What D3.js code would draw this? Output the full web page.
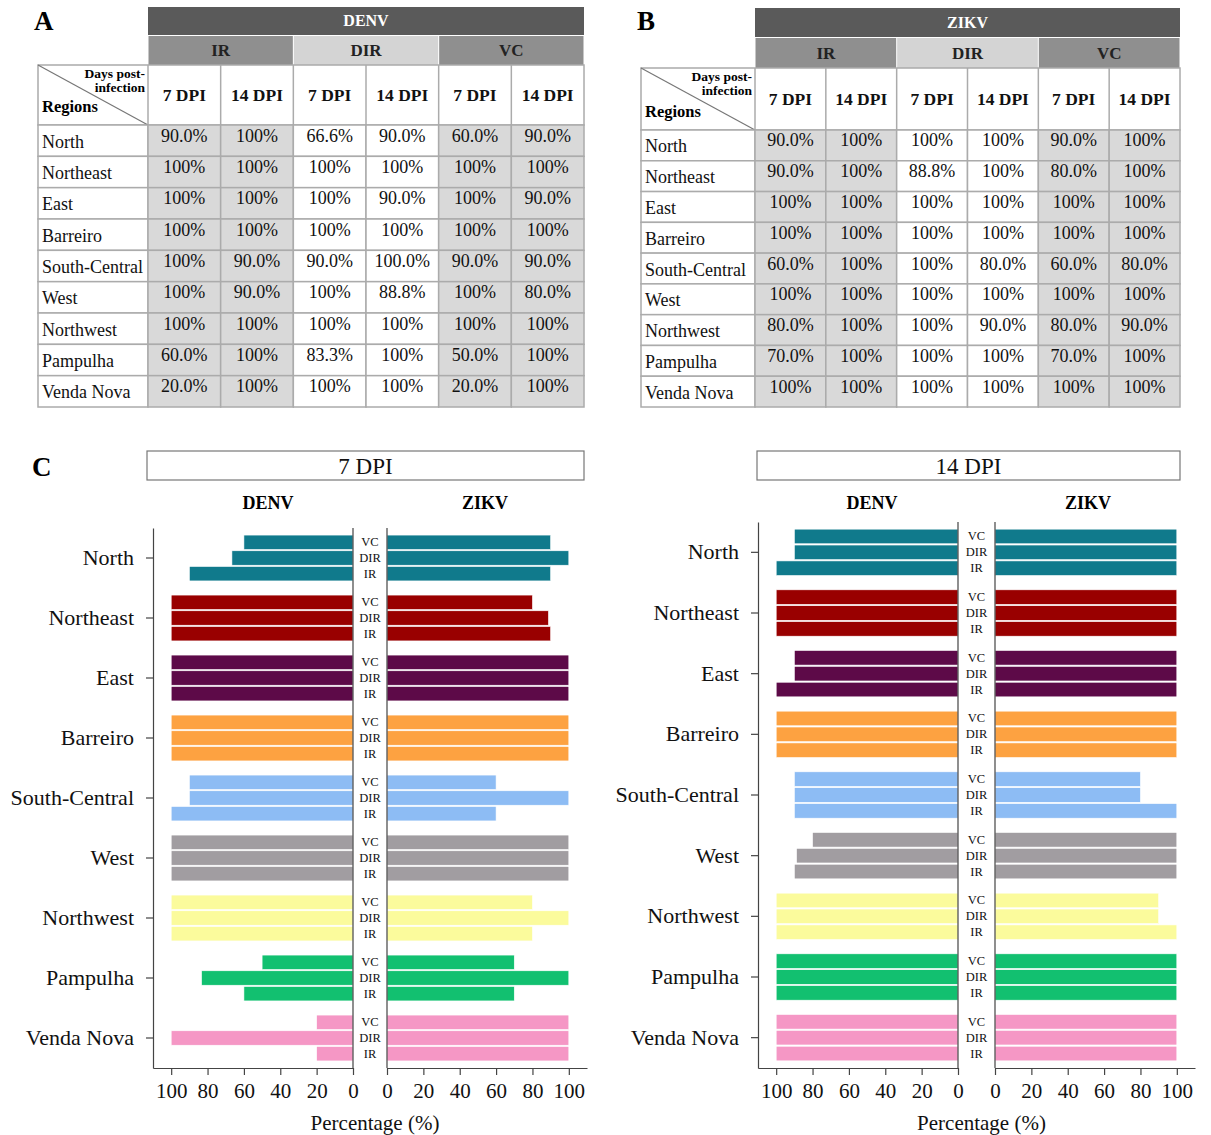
<!DOCTYPE html>
<html>
<head>
<meta charset="utf-8">
<script src="https://cdn.jsdelivr.net/npm/d3@7"></script>
<style>
  body { margin: 0; background: #fff; }
  svg text { font-family: "Liberation Serif", "Times New Roman", serif; }
</style>
</head>
<body>
<svg id="viz" width="1211" height="1135"></svg>
<script>
// Regions, colours, metrics
const regions = ['North', 'Northeast', 'East', 'Barreiro', 'South-Central', 'West', 'Northwest', 'Pampulha', 'Venda Nova'];
const regionColors = ['#107a8c', '#990000', '#5d0a48', '#fda241', '#8dbcf4', '#a19da1', '#fbfb9c', '#12c070', '#f597c5'];
const metrics = ['VC', 'DIR', 'IR'];
const groups = ['IR', 'DIR', 'VC'];
const dpiCols = ['7 DPI', '14 DPI', '7 DPI', '14 DPI', '7 DPI', '14 DPI'];
const ticks = [0, 20, 40, 60, 80, 100];

// Table A (DENV) text, one array per column
const denvTableIR7 = ['90.0%', '100%', '100%', '100%', '100%', '100%', '100%', '60.0%', '20.0%'];
const denvTableIR14 = ['100%', '100%', '100%', '100%', '90.0%', '90.0%', '100%', '100%', '100%'];
const denvTableDIR7 = ['66.6%', '100%', '100%', '100%', '90.0%', '100%', '100%', '83.3%', '100%'];
const denvTableDIR14 = ['90.0%', '100%', '90.0%', '100%', '100.0%', '88.8%', '100%', '100%', '100%'];
const denvTableVC7 = ['60.0%', '100%', '100%', '100%', '90.0%', '100%', '100%', '50.0%', '20.0%'];
const denvTableVC14 = ['90.0%', '100%', '90.0%', '100%', '90.0%', '80.0%', '100%', '100%', '100%'];

// Table B (ZIKV) text
const zikvTableIR7 = ['90.0%', '90.0%', '100%', '100%', '60.0%', '100%', '80.0%', '70.0%', '100%'];
const zikvTableIR14 = ['100%', '100%', '100%', '100%', '100%', '100%', '100%', '100%', '100%'];
const zikvTableDIR7 = ['100%', '88.8%', '100%', '100%', '100%', '100%', '100%', '100%', '100%'];
const zikvTableDIR14 = ['100%', '100%', '100%', '100%', '80.0%', '100%', '90.0%', '100%', '100%'];
const zikvTableVC7 = ['90.0%', '80.0%', '100%', '100%', '60.0%', '100%', '80.0%', '70.0%', '100%'];
const zikvTableVC14 = ['100%', '100%', '100%', '100%', '80.0%', '100%', '90.0%', '100%', '100%'];

// Panel C bar values
const denv7IR = [90, 100, 100, 100, 100, 100, 100, 60, 20];
const denv7DIR = [66.6, 100, 100, 100, 90, 100, 100, 83.3, 100];
const denv7VC = [60, 100, 100, 100, 90, 100, 100, 50, 20];
const zikv7IR = [90, 90, 100, 100, 60, 100, 80, 70, 100];
const zikv7DIR = [100, 88.8, 100, 100, 100, 100, 100, 100, 100];
const zikv7VC = [90, 80, 100, 100, 60, 100, 80, 70, 100];
const denv14IR = [100, 100, 100, 100, 90, 90, 100, 100, 100];
const denv14DIR = [90, 100, 90, 100, 90, 88.8, 100, 100, 100];
const denv14VC = [90, 100, 90, 100, 90, 80, 100, 100, 100];
const zikv14IR = [100, 100, 100, 100, 100, 100, 100, 100, 100];
const zikv14DIR = [100, 100, 100, 100, 80, 100, 90, 100, 100];
const zikv14VC = [100, 100, 100, 100, 80, 100, 90, 100, 100];

const svg = d3.select('#viz');
const borderColor = '#ababab';

function drawTable(o) {
    const g = svg.append('g');
    const cols = [o.ir7, o.ir14, o.dir7, o.dir14, o.vc7, o.vc14];
    const xCol = d3.scaleBand().domain(d3.range(6)).range([o.x1, o.x2]);
    const yRow = d3.scaleBand().domain(regions).range([o.yH3, o.yBottom]);

    // panel letter
    g.append('text').attr('x', o.letterX).attr('y', o.letterY)
        .style('font-size', '27px').style('font-weight', 'bold').text(o.letter);

    // virus header
    g.append('rect').attr('x', o.x1).attr('y', o.yTop).attr('width', o.x2 - o.x1).attr('height', o.yH1 - o.yTop)
        .attr('fill', '#5a5a5a');
    g.append('text').attr('x', (o.x1 + o.x2) / 2).attr('y', (o.yTop + o.yH1) / 2 + 5)
        .attr('text-anchor', 'middle').attr('fill', '#fff')
        .style('font-size', '16px').style('font-weight', 'bold').text(o.virus);

    // IR / DIR / VC header
    groups.forEach((grp, i) => {
        const gx = xCol(i * 2);
        const gw = xCol.bandwidth() * 2;
        g.append('rect').attr('x', gx + 0.5).attr('y', o.yH1 + 1).attr('width', gw - 1).attr('height', o.yH2 - o.yH1 - 1)
            .attr('fill', grp === 'DIR' ? '#d4d4d4' : '#8f8f8f');
        g.append('text').attr('x', gx + gw / 2).attr('y', (o.yH1 + o.yH2) / 2 + 6)
            .attr('text-anchor', 'middle').attr('fill', '#222')
            .style('font-size', '17px').style('font-weight', 'bold').text(grp);
    });

    // DPI header row
    g.append('rect').attr('x', o.x0).attr('y', o.yH2).attr('width', o.x2 - o.x0).attr('height', o.yH3 - o.yH2)
        .attr('fill', '#fff').attr('stroke', borderColor).attr('stroke-width', 1.5);
    dpiCols.forEach((t, i) => {
        g.append('line').attr('x1', xCol(i)).attr('x2', xCol(i)).attr('y1', o.yH2).attr('y2', o.yH3)
            .attr('stroke', borderColor).attr('stroke-width', 1.5);
        g.append('text').attr('x', xCol(i) + xCol.bandwidth() / 2).attr('y', (o.yH2 + o.yH3) / 2 + 6)
            .attr('text-anchor', 'middle').attr('fill', '#111')
            .style('font-size', '17.5px').style('font-weight', 'bold').text(t);
    });
    g.append('line').attr('x1', o.x0).attr('y1', o.yH2).attr('x2', o.x1).attr('y2', o.yH3)
        .attr('stroke', '#777').attr('stroke-width', 1.2);
    g.append('text').attr('x', o.x1 - 3).attr('y', o.yH2 + 13).attr('text-anchor', 'end')
        .style('font-size', '13.5px').style('font-weight', 'bold').text('Days post-');
    g.append('text').attr('x', o.x1 - 3).attr('y', o.yH2 + 27).attr('text-anchor', 'end')
        .style('font-size', '13.5px').style('font-weight', 'bold').text('infection');
    g.append('text').attr('x', o.x0 + 4).attr('y', o.yH3 - 13)
        .style('font-size', '16.5px').style('font-weight', 'bold').text('Regions');

    // data rows
    regions.forEach((r, ri) => {
        const y = yRow(r);
        const h = yRow.bandwidth();
        g.append('rect').attr('x', o.x0).attr('y', y).attr('width', o.x1 - o.x0).attr('height', h)
            .attr('fill', '#fff').attr('stroke', borderColor).attr('stroke-width', 1.5);
        g.append('text').attr('x', o.x0 + 4).attr('y', y + h / 2 + 7)
            .attr('fill', '#111').style('font-size', '18px').text(r);
        cols.forEach((col, ci) => {
            g.append('rect').attr('x', xCol(ci)).attr('y', y).attr('width', xCol.bandwidth()).attr('height', h)
                .attr('fill', (ci === 2 || ci === 3) ? '#fff' : '#d9d9d9')
                .attr('stroke', borderColor).attr('stroke-width', 1.5);
            g.append('text').attr('x', xCol(ci) + xCol.bandwidth() / 2).attr('y', y + h / 2 + 1)
                .attr('text-anchor', 'middle').attr('fill', '#111')
                .style('font-size', '18px').text(col[ri]);
        });
    });
}

drawTable({
    letter: 'A', letterX: 34, letterY: 30, virus: 'DENV',
    x0: 38, x1: 148, x2: 584, yTop: 7, yH1: 35, yH2: 65, yH3: 125, yBottom: 407,
    ir7: denvTableIR7, ir14: denvTableIR14, dir7: denvTableDIR7, dir14: denvTableDIR14,
    vc7: denvTableVC7, vc14: denvTableVC14
});
drawTable({
    letter: 'B', letterX: 637, letterY: 30, virus: 'ZIKV',
    x0: 641, x1: 755, x2: 1180, yTop: 8, yH1: 37, yH2: 68, yH3: 130, yBottom: 407,
    ir7: zikvTableIR7, ir14: zikvTableIR14, dir7: zikvTableDIR7, dir14: zikvTableDIR14,
    vc7: zikvTableVC7, vc14: zikvTableVC14
});

// Panel C
svg.append('text').attr('x', 32).attr('y', 476)
    .style('font-size', '27px').style('font-weight', 'bold').text('C');

function drawPanel(o) {
    const g = svg.append('g');
    const bottom = 1068;
    const y = d3.scaleBand().domain(regions).range([o.top, bottom]);
    const sub = d3.scaleBand().domain(metrics).range([0, y.bandwidth()]).paddingInner(0.08).paddingOuter(0.45);
    const xL = d3.scaleLinear().domain([0, 110]).range([o.zeroL, o.axisX]);
    const xR = d3.scaleLinear().domain([0, 110]).range([o.zeroR, o.zeroR + (o.zeroL - o.axisX)]);

    // title box
    g.append('rect').attr('x', o.boxX1).attr('y', 451).attr('width', o.boxX2 - o.boxX1).attr('height', 29)
        .attr('fill', '#fff').attr('stroke', '#777').attr('stroke-width', 1.2);
    g.append('text').attr('x', (o.boxX1 + o.boxX2) / 2).attr('y', 474).attr('text-anchor', 'middle')
        .style('font-size', '23px').attr('fill', '#111').text(o.title);
    g.append('text').attr('x', o.denvX).attr('y', 509).attr('text-anchor', 'middle')
        .style('font-size', '18px').style('font-weight', 'bold').text('DENV');
    g.append('text').attr('x', o.zikvX).attr('y', 509).attr('text-anchor', 'middle')
        .style('font-size', '18px').style('font-weight', 'bold').text('ZIKV');

    const sides = [
        { x: xL, series: { VC: o.denvVC, DIR: o.denvDIR, IR: o.denvIR }, left: true },
        { x: xR, series: { VC: o.zikvVC, DIR: o.zikvDIR, IR: o.zikvIR }, left: false }
    ];
    sides.forEach(s => {
        regions.forEach((r, ri) => {
            metrics.forEach(m => {
                const v = s.series[m][ri];
                g.append('rect')
                    .attr('x', s.left ? s.x(v) : s.x(0))
                    .attr('y', y(r) + sub(m))
                    .attr('width', Math.abs(s.x(v) - s.x(0)))
                    .attr('height', sub.bandwidth())
                    .attr('fill', regionColors[ri])
                    .attr('stroke', '#fff').attr('stroke-width', 0.6);
            });
        });
    });

    // metric labels in the middle strip
    regions.forEach(r => {
        metrics.forEach(m => {
            g.append('text').attr('x', (o.zeroL + o.zeroR) / 2).attr('y', y(r) + sub(m) + sub.bandwidth() / 2 + 4)
                .attr('text-anchor', 'middle').style('font-size', '12.5px').attr('fill', '#111').text(m);
        });
    });

    // axes
    const yAxis = g.append('g').attr('transform', `translate(${o.axisX},0)`)
        .call(d3.axisLeft(y).tickSize(7).tickSizeOuter(0).tickPadding(12));
    yAxis.selectAll('text').style('font-size', '22px').attr('fill', '#111');

    g.append('g').attr('transform', `translate(0,${bottom})`)
        .call(d3.axisBottom(xL).tickValues(ticks).tickSize(7).tickSizeOuter(0).tickPadding(8))
        .selectAll('text').style('font-size', '21px').attr('fill', '#111');
    g.append('g').attr('transform', `translate(0,${bottom})`)
        .call(d3.axisBottom(xR).tickValues(ticks).tickSize(7).tickSizeOuter(0).tickPadding(8))
        .selectAll('text').style('font-size', '21px').attr('fill', '#111');

    g.append('line').attr('x1', o.zeroL).attr('x2', o.zeroL).attr('y1', o.top).attr('y2', bottom)
        .attr('stroke', '#444').attr('stroke-width', 1.2);
    g.append('line').attr('x1', o.zeroR).attr('x2', o.zeroR).attr('y1', o.top).attr('y2', bottom)
        .attr('stroke', '#444').attr('stroke-width', 1.2);
    g.selectAll('.domain, .tick line').attr('stroke', '#444').attr('stroke-width', 1.2);

    g.append('text').attr('x', (o.zeroL + o.zeroR) / 2 + 5).attr('y', bottom + 62).attr('text-anchor', 'middle')
        .style('font-size', '21px').attr('fill', '#111').text('Percentage (%)');
}

drawPanel({
    title: '7 DPI', top: 528, axisX: 153, zeroL: 353, zeroR: 387,
    boxX1: 147, boxX2: 584, denvX: 268, zikvX: 485,
    denvIR: denv7IR, denvDIR: denv7DIR, denvVC: denv7VC,
    zikvIR: zikv7IR, zikvDIR: zikv7DIR, zikvVC: zikv7VC
});
drawPanel({
    title: '14 DPI', top: 522, axisX: 758, zeroL: 958, zeroR: 995,
    boxX1: 757, boxX2: 1180, denvX: 872, zikvX: 1088,
    denvIR: denv14IR, denvDIR: denv14DIR, denvVC: denv14VC,
    zikvIR: zikv14IR, zikvDIR: zikv14DIR, zikvVC: zikv14VC
});
</script>
</body>
</html>
